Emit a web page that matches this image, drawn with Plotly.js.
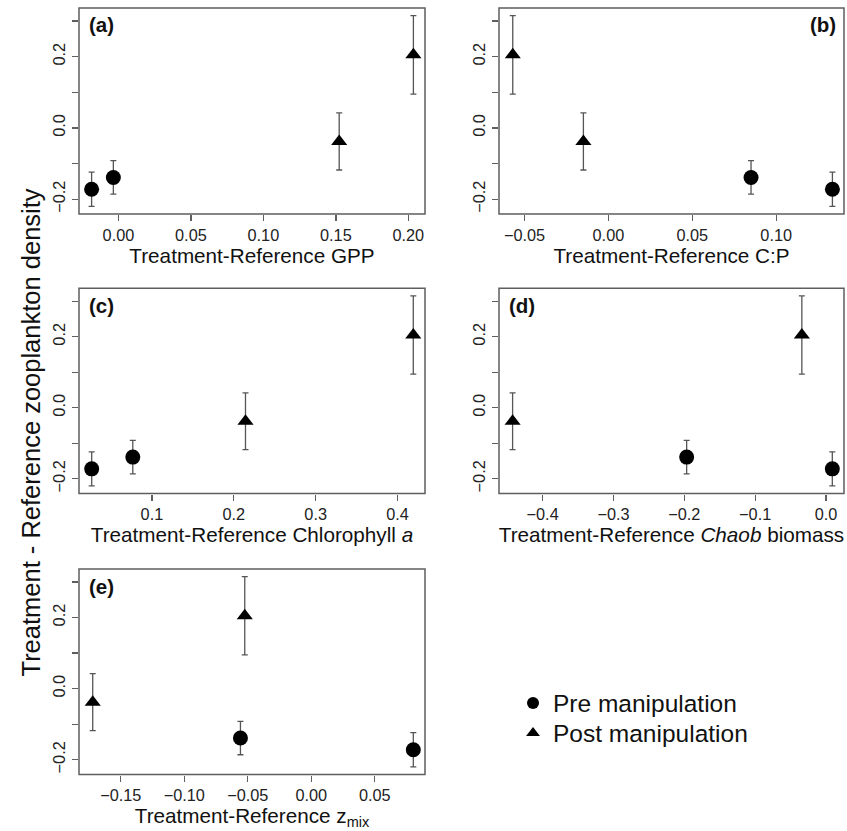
<!DOCTYPE html>
<html>
<head>
<meta charset="utf-8">
<script src="https://cdn.plot.ly/plotly-3.0.1.min.js"></script>
<style>
html,body{margin:0;padding:0;background:#fff;}
#chart{width:847px;height:831px;}
</style>
</head>
<body>
<div id="chart"></div>
<script>
// ---- data ----
const seriesNames = ['Pre manipulation', 'Post manipulation'];
const preY = [-0.172, -0.139];
const preErr = [0.048, 0.047];
const postY = [-0.038, 0.205];
const postErr = [0.080, 0.110];

const gppPreX = [-0.0185, -0.0035];
const gppPostX = [0.1523, 0.2035];
const cpPreX = [0.1335, 0.085];
const cpPostX = [-0.0149, -0.057];
const chlPreX = [0.0265, 0.0767];
const chlPostX = [0.2143, 0.4192];
const chaobPreX = [0.0089, -0.1967];
const chaobPostX = [-0.4424, -0.0341];
const zmixPreX = [0.0803, -0.0558];
const zmixPostX = [-0.1721, -0.0524];

const panelLabels = ['(a)', '(b)', '(c)', '(d)', '(e)'];
const xTitles = [
  'Treatment-Reference GPP',
  'Treatment-Reference C:P',
  'Treatment-Reference Chlorophyll <i>a</i>',
  'Treatment-Reference <i>Chaob</i> biomass',
  'Treatment-Reference z<sub>mix</sub>'
];
const yTitle = 'Treatment - Reference zooplankton density';
const yTickVals = [-0.2, 0, 0.2];
const yTickText = ['\u22120.2', '0.0', '0.2'];
const yMinorStep = 0.1;
const xTickVals = [
  [0, 0.05, 0.10, 0.15, 0.20],
  [-0.05, 0, 0.05, 0.10],
  [0.1, 0.2, 0.3, 0.4],
  [-0.4, -0.3, -0.2, -0.1, 0.0],
  [-0.15, -0.10, -0.05, 0.00, 0.05]
];
const xTickFormats = ['.2f', '.2f', '.1f', '.1f', '.2f'];

// ---- layout helpers ----
const W = 847, H = 831;
const FONT = 'Liberation Sans, Arial, Helvetica, sans-serif';
const colDom = [[79 / W, 425 / W], [499 / W, 844 / W]];
const rowDom = [
  [1 - 214 / H, 1 - 8 / H],
  [1 - 493.5 / H, 1 - 288.3 / H],
  [1 - 774.5 / H, 1 - 569 / H]
];
const xRanges = [
  [-0.0272, 0.2115],
  [-0.0652, 0.1404],
  [0.011, 0.4335],
  [-0.4616, 0.0254],
  [-0.1829, 0.0895]
];
const yRange = [-0.2415, 0.3365];
const panelPos = [[0, 0], [1, 0], [0, 1], [1, 1], [0, 2]];

const panelX = [
  [gppPreX, gppPostX],
  [cpPreX, cpPostX],
  [chlPreX, chlPostX],
  [chaobPreX, chaobPostX],
  [zmixPreX, zmixPostX]
];

const lineCol = '#5e5e5e';
const errCol = '#555555';

const legendBase = {
  x: 513 / W, xanchor: 'left', yanchor: 'middle',
  font: {family: FONT, size: 24.5, color: '#111'},
  itemsizing: 'constant',
  bgcolor: 'rgba(0,0,0,0)',
  borderwidth: 0
};

const traces = [];
const layout = {
  width: W, height: H,
  margin: {l: 0, r: 0, t: 0, b: 0},
  paper_bgcolor: '#ffffff',
  plot_bgcolor: '#ffffff',
  font: {family: FONT, color: '#111'},
  showlegend: true,
  legend: Object.assign({}, legendBase, {y: 1 - 703 / H}),
  legend2: Object.assign({}, legendBase, {y: 1 - 733 / H}),
  annotations: [],
  shapes: []
};

panelX.forEach((px, i) => {
  const sfx = i === 0 ? '' : String(i + 1);
  const xa = 'x' + sfx, ya = 'y' + sfx;
  const [c, r] = panelPos[i];
  traces.push({
    type: 'scatter', mode: 'markers',
    x: px[0], y: preY, xaxis: xa, yaxis: ya,
    name: seriesNames[0], showlegend: i === 0, legend: 'legend',
    marker: {symbol: 'circle', size: 15, color: '#000'},
    error_y: {type: 'data', array: preErr, visible: true, color: errCol, thickness: 1.3, width: 3},
    hoverinfo: 'skip'
  });
  traces.push({
    type: 'scatter', mode: 'markers',
    x: px[1], y: postY, xaxis: xa, yaxis: ya,
    name: seriesNames[1], showlegend: i === 0, legend: 'legend2',
    marker: {symbol: 'triangle-up', size: 14, color: '#000'},
    error_y: {type: 'data', array: postErr, visible: true, color: errCol, thickness: 1.3, width: 3},
    hoverinfo: 'skip'
  });

  layout['xaxis' + sfx] = {
    domain: colDom[c], anchor: ya, range: xRanges[i],
    showline: false,
    ticks: 'outside', ticklen: 6, tickwidth: 1.3, tickcolor: lineCol,
    tickmode: 'array', tickvals: xTickVals[i], tickformat: xTickFormats[i],
    tickfont: {family: FONT, size: 16.3, color: '#222'},
    showgrid: false, zeroline: false, fixedrange: true,
    title: {text: xTitles[i], font: {family: FONT, size: 20.7, color: '#111'}, standoff: 5}
  };
  layout['yaxis' + sfx] = {
    domain: rowDom[r], anchor: xa, range: yRange,
    showline: false,
    ticks: 'outside', ticklen: 6, tickwidth: 1.3, tickcolor: lineCol,
    tickmode: 'array', tickvals: yTickVals, ticktext: yTickText, tickangle: -90,
    minor: {dtick: yMinorStep, tick0: 0, ticks: 'outside', ticklen: 6, tickwidth: 1.3, tickcolor: lineCol, showgrid: false},
    tickfont: {family: FONT, size: 16.3, color: '#222'},
    showgrid: false, zeroline: false, fixedrange: true
  };

  layout.shapes.push({
    type: 'rect', xref: xa + ' domain', yref: ya + ' domain',
    x0: 0, x1: 1, y0: 0, y1: 1,
    line: {color: lineCol, width: 1.5}, fillcolor: 'rgba(0,0,0,0)', layer: 'above'
  });

  const right = i === 1;
  layout.annotations.push({
    text: '<b>' + panelLabels[i] + '</b>',
    xref: xa + ' domain', yref: ya + ' domain',
    x: right ? 1 : 0, xanchor: right ? 'right' : 'left',
    xshift: right ? -6 : 8,
    y: 1, yanchor: 'middle', yshift: -17,
    showarrow: false,
    font: {family: FONT, size: 20.5, color: '#111'}
  });
});

layout.annotations.push({
  text: yTitle,
  xref: 'paper', yref: 'paper',
  x: 30 / W, xanchor: 'center',
  y: 1 - 432.5 / H, yanchor: 'middle',
  textangle: -90, showarrow: false,
  font: {family: FONT, size: 25.5, color: '#111'}
});

Plotly.newPlot('chart', traces, layout, {displayModeBar: false, staticPlot: true});
</script>
</body>
</html>
